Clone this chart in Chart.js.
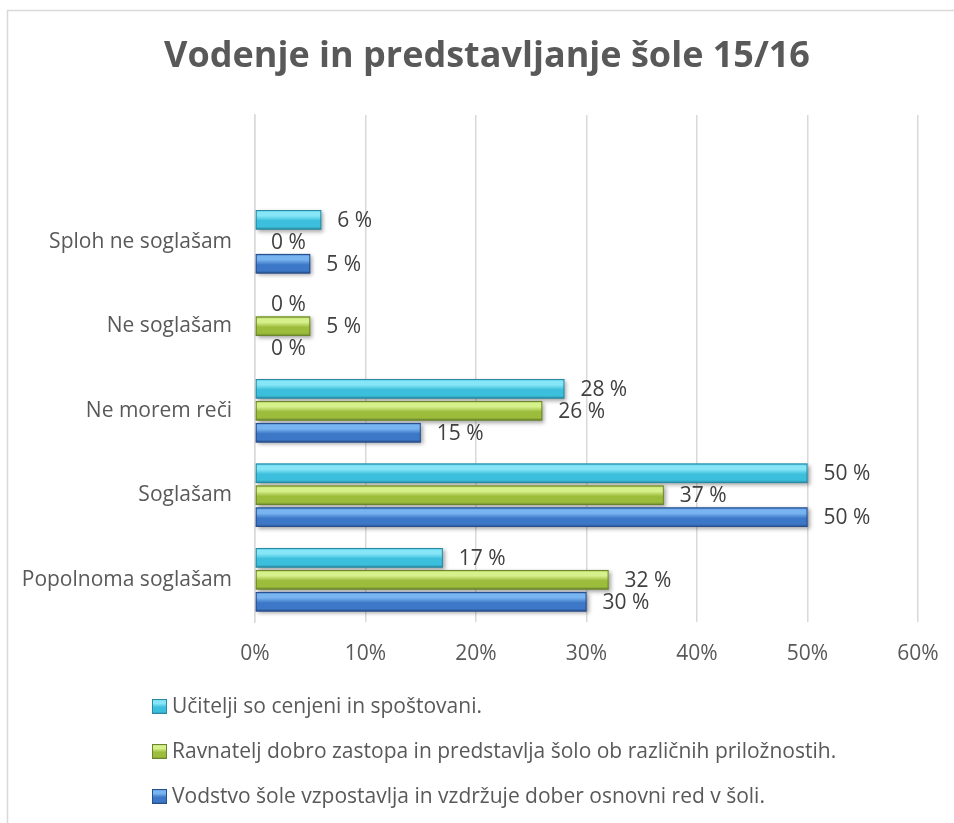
<!DOCTYPE html>
<html>
<head>
<meta charset="utf-8">
<script src="https://cdn.jsdelivr.net/npm/chart.js@4.4.0/dist/chart.umd.min.js"></script>
<style>
  body { margin: 0; background: #fff; }
  #wrap { width: 954px; height: 823px; }
</style>
</head>
<body>
<div id="wrap"><canvas id="chart" width="954" height="823"></canvas></div>
<script>
// categories top to bottom (first row is empty in the original sheet)
var categories = ['', 'Sploh ne soglašam', 'Ne soglašam', 'Ne morem reči', 'Soglašam', 'Popolnoma soglašam'];

var seriesNames = [
    'Učitelji so cenjeni in spoštovani.',
    'Ravnatelj dobro zastopa in predstavlja šolo ob različnih priložnostih.',
    'Vodstvo šole vzpostavlja in vzdržuje dober osnovni red v šoli.'
];

var ucitelji  = [null, 6, 0, 28, 50, 17];
var ravnatelj = [null, 0, 5, 26, 37, 32];
var vodstvo   = [null, 5, 0, 15, 50, 30];

var xTicks = [0, 10, 20, 30, 40, 50, 60];

var titleText = 'Vodenje in predstavljanje šole 15/16';

// light / mid / dark for the bevelled bars
var palette = [
    ['#86e6f7', '#3bbfdc', '#2a8aa2'],
    ['#d6f08c', '#9cbc3c', '#6b862a'],
    ['#78b4f0', '#3d78c8', '#284f8c']
];

var FONT = "'Open Sans', sans-serif";
var FS = 21;

function barGradient(ctx, top, h, cols) {
    var g = ctx.createLinearGradient(0, top, 0, top + h);
    g.addColorStop(0, cols[1]);
    g.addColorStop(0.12, cols[0]);
    g.addColorStop(0.3, cols[0]);
    g.addColorStop(0.55, cols[1]);
    g.addColorStop(0.85, cols[1]);
    g.addColorStop(1, cols[2]);
    return g;
}

// frame round the whole chart + title (centred on the frame, not the canvas)
var framePlugin = {
    id: 'frame',
    beforeDraw: function(chart) {
        var ctx = chart.ctx;
        ctx.save();
        ctx.fillStyle = '#fff';
        ctx.fillRect(0, 0, chart.width, chart.height);
        ctx.strokeStyle = '#d9d9d9';
        ctx.lineWidth = 1.5;
        ctx.strokeRect(7.5, 10.5, 960, 840);
        ctx.fillStyle = '#595959';
        ctx.font = 'bold 36px ' + FONT;
        ctx.textAlign = 'center';
        ctx.textBaseline = 'middle';
        ctx.fillText(titleText, 487, 57);
        ctx.restore();
    }
};

// bevel look + value labels
var barPlugin = {
    id: 'bevelBars',
    afterDatasetsDraw: function(chart) {
        var ctx = chart.ctx;
        chart.data.datasets.forEach(function(ds, di) {
            var meta = chart.getDatasetMeta(di);
            meta.data.forEach(function(bar, i) {
                var v = ds.data[i];
                if (v === null) return;
                var p = bar.getProps(['x', 'y', 'base', 'height'], true);
                var top = p.y - p.height / 2;
                var w = p.x - p.base;
                ctx.save();
                if (w > 0) {
                    ctx.shadowColor = 'rgba(0,0,0,0.35)';
                    ctx.shadowBlur = 4;
                    ctx.shadowOffsetX = 2;
                    ctx.shadowOffsetY = 2;
                    ctx.fillStyle = barGradient(ctx, top, p.height, palette[di]);
                    ctx.fillRect(p.base, top, w, p.height);
                    ctx.shadowColor = 'transparent';
                    ctx.strokeStyle = palette[di][2];
                    ctx.lineWidth = 1;
                    ctx.strokeRect(p.base + 0.5, top + 0.5, w - 1, p.height - 1);
                }
                ctx.fillStyle = '#404040';
                ctx.font = FS + 'px ' + FONT;
                ctx.textAlign = 'left';
                ctx.textBaseline = 'middle';
                ctx.fillText(v + ' %', p.x + 16, p.y + 1);
                ctx.restore();
            });
        });
    }
};

// legend stacked at the bottom left
var legendPlugin = {
    id: 'stackLegend',
    afterDraw: function(chart) {
        var ctx = chart.ctx;
        var x = 152, y0 = 706, step = 45;
        ctx.save();
        ctx.font = FS + 'px ' + FONT;
        ctx.textBaseline = 'middle';
        ctx.textAlign = 'left';
        seriesNames.forEach(function(name, i) {
            var y = y0 + i * step;
            ctx.fillStyle = barGradient(ctx, y - 7, 15, palette[i]);
            ctx.fillRect(x, y - 7, 15, 15);
            ctx.strokeStyle = palette[i][2];
            ctx.strokeRect(x + 0.5, y - 6.5, 14, 14);
            ctx.fillStyle = '#595959';
            ctx.fillText(name, x + 20, y + 1);
        });
        ctx.restore();
    }
};

var ctx = document.getElementById('chart').getContext('2d');

var datasets = [ucitelji, ravnatelj, vodstvo].map(function(d, i) {
    return {
        label: seriesNames[i],
        data: d,
        backgroundColor: 'rgba(0,0,0,0)',
        borderWidth: 0,
        categoryPercentage: 0.78,
        barPercentage: 0.89
    };
});

var chart = new Chart(ctx, {
    type: 'bar',
    data: { labels: categories, datasets: datasets },
    options: {
        indexAxis: 'y',
        responsive: false,
        animation: false,
        layout: { padding: { left: 22, right: 36, top: 115, bottom: 156 } },
        plugins: {
            legend: { display: false },
            tooltip: { enabled: false },
            title: { display: false }
        },
        scales: {
            x: {
                min: 0,
                max: 60,
                afterBuildTicks: function(axis) {
                    axis.ticks = xTicks.map(function(v) { return { value: v }; });
                },
                afterFit: function(axis) {
                    axis.height = 45;
                    axis.paddingLeft = 0;
                    axis.paddingRight = 0;
                },
                ticks: {
                    color: '#595959',
                    font: { family: FONT, size: FS },
                    padding: 19,
                    callback: function(v) { return v + '%'; }
                },
                grid: { color: '#d9d9d9', lineWidth: 1.5, drawTicks: false },
                border: { display: false }
            },
            y: {
                afterFit: function(axis) {
                    axis.width = 233;
                    axis.paddingTop = 0;
                    axis.paddingBottom = 0;
                },
                ticks: {
                    color: '#595959',
                    font: { family: FONT, size: FS },
                    padding: 23
                },
                grid: { display: false, drawTicks: false },
                border: { color: '#d9d9d9', width: 1.5 }
            }
        }
    },
    plugins: [framePlugin, barPlugin, legendPlugin]
});
</script>
</body>
</html>
